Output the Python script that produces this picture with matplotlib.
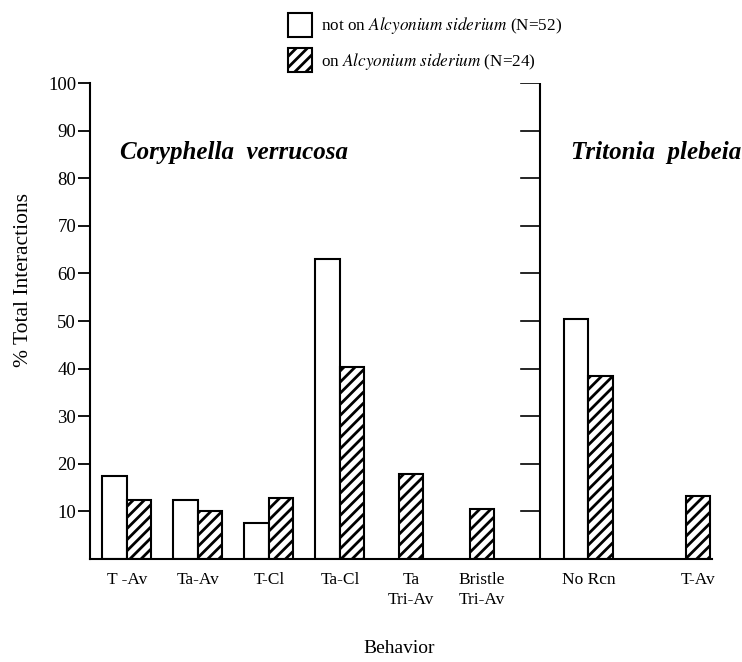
import matplotlib
matplotlib.use("Agg")
import matplotlib.pyplot as plt
from matplotlib.patches import Rectangle

plt.rcParams['font.family'] = ['Liberation Serif', 'DejaVu Serif']
plt.rcParams['hatch.linewidth'] = 2.0

categories = ["T -Av", "Ta-Av", "T-Cl", "Ta-Cl", "Ta\nTri-Av", "Bristle\nTri-Av", "No Rcn", "T-Av"]
not_on = [17.5, 12.5, 7.6, 63.0, 0, 0, 50.5, 0]
on_alc = [12.5, 10.0, 12.8, 40.3, 17.8, 10.4, 38.4, 13.3]
yticks = [10, 20, 30, 40, 50, 60, 70, 80, 90, 100]

# layout positions (category centers)
pos = [0, 1, 2, 3, 4, 5, 6.5, 8.04]
w = 0.345

fig = plt.figure(figsize=(7.42, 6.62), dpi=100)
L, R, T, B = 90, 712, 83, 559
ax = fig.add_axes([L/742, 1-B/662, (R-L)/742, (B-T)/662])

for x, a, b in zip(pos, not_on, on_alc):
    if a > 0:
        ax.bar(x - w/2, a, w, color='white', edgecolor='black', linewidth=1.5)
        ax.bar(x + w/2, b, w, color='white', edgecolor='black', linewidth=1.5, hatch='///')
    else:
        ax.bar(x, b, w, color='white', edgecolor='black', linewidth=1.5, hatch='///')

ax.set_xlim(-0.52, 8.24)
ax.set_ylim(0, 100)
ax.set_yticks(yticks)
ax.set_yticklabels([str(t) for t in yticks], fontsize=13.5)
ax.tick_params(axis='y', direction='out', length=9, width=1.3, pad=1)
ax.set_xticks(pos)
ax.set_xticklabels(categories, fontsize=12.5, linespacing=1.4)
ax.tick_params(axis='x', length=0, pad=9)
for s in ['top', 'right']:
    ax.spines[s].set_visible(False)
ax.spines['left'].set_linewidth(1.5)
ax.spines['bottom'].set_linewidth(1.5)

# second y axis line for Tritonia
ax.axvline(5.82, ymin=0, ymax=1, color='black', linewidth=1.5)
for t in yticks:
    ax.plot([5.82 - 0.27, 5.82], [t, t], color='black', linewidth=1.2)

ax.set_ylabel("% Total Interactions", fontsize=15.5)
ax.yaxis.set_label_coords(-0.092, 0.586)
ax.set_xlabel("Behavior", fontsize=14)
ax.xaxis.set_label_coords(0.497, -0.17)

ax.text(1.51, 85.5, "Coryphella  verrucosa", fontsize=18, fontweight='bold',
        style='italic', ha='center', va='center')
ax.text(7.46, 85.5, "Tritonia  plebeia", fontsize=18, fontweight='bold',
        style='italic', ha='center', va='center')

# legend
fig.patches.append(Rectangle((288/742, 1-37/662), 24/742, 24/662, transform=fig.transFigure,
                             facecolor='white', edgecolor='black', linewidth=1.5))
fig.patches.append(Rectangle((288/742, 1-72/662), 24/742, 24/662, transform=fig.transFigure,
                             facecolor='white', edgecolor='black', linewidth=1.5, hatch='///'))
fig.text(321/742, 1-25/662, r"not on $\mathit{Alcyonium\ siderium}$ (N=52)", fontsize=12.3,
         va='center', ha='left', math_fontfamily='stix')
fig.text(321/742, 1-61/662, r"on $\mathit{Alcyonium\ siderium}$ (N=24)", fontsize=12.3,
         va='center', ha='left', math_fontfamily='stix')

fig.savefig("out.png", dpi=100)
